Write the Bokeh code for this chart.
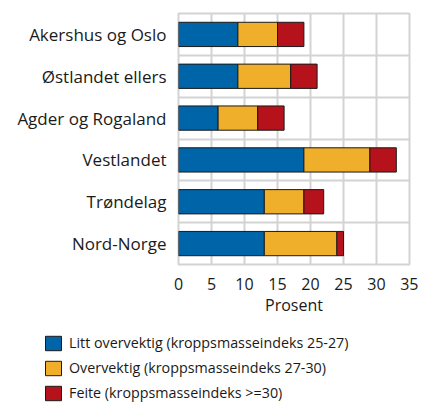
from bokeh.plotting import figure
from bokeh.layouts import column
from bokeh.models import Range1d, FixedTicker, Legend, LegendItem
from bokeh.embed import file_html
from bokeh.resources import INLINE

regions = ["Akershus og Oslo", "Østlandet ellers", "Agder og Rogaland",
           "Vestlandet", "Trøndelag", "Nord-Norge"]
litt = [9, 9, 6, 19, 13, 13]
over = [6, 8, 6, 10, 6, 11]
feite = [4, 4, 4, 4, 3, 1]
series_names = ["Litt overvektig (kroppsmasseindeks 25-27)",
                "Overvektig (kroppsmasseindeks 27-30)",
                "Feite (kroppsmasseindeks >=30)"]
colors = ["#0064a8", "#efaf2b", "#b5121b"]
x_ticks = [0, 5, 10, 15, 20, 25, 30, 35]
x_label = "Prosent"

FONT = "Open Sans"
TXT = "#1a1a1a"
GRID = "#d3d3d3"
EDGE = "#1a1a1a"

p = figure(width=418, height=318, x_range=Range1d(0, 35), y_range=Range1d(5.5, -0.5),
           output_backend="svg", toolbar_location=None,
           min_border_left=178, min_border_right=9, min_border_top=13, min_border_bottom=49)

ys = list(range(len(regions)))
series = [litt, over, feite]
left = [0] * len(regions)
for vals, col in zip(series, colors):
    right = [l + v for l, v in zip(left, vals)]
    p.hbar(y=ys, left=left, right=right, height=0.58, fill_color=col,
           line_color=EDGE, line_width=1)
    left = right

p.xgrid.ticker = FixedTicker(ticks=x_ticks)
p.ygrid.ticker = FixedTicker(ticks=[0.5, 1.5, 2.5, 3.5, 4.5])
for g in (p.xgrid, p.ygrid):
    g.grid_line_color = GRID
    g.grid_line_width = 2
p.outline_line_color = GRID
p.outline_line_width = 2

p.xaxis.ticker = FixedTicker(ticks=x_ticks)
p.yaxis.ticker = FixedTicker(ticks=ys)
p.yaxis.major_label_overrides = {i: n for i, n in enumerate(regions)}
p.xaxis.axis_label = x_label
for ax in (p.xaxis, p.yaxis):
    ax.axis_line_color = None
    ax.major_tick_line_color = None
    ax.minor_tick_line_color = None
    ax.major_label_text_font = FONT
    ax.major_label_text_color = TXT
    ax.major_label_text_font_size = "16px"
    ax.axis_label_text_font = FONT
    ax.axis_label_text_font_style = "normal"
    ax.axis_label_text_font_size = "16px"
    ax.axis_label_text_color = TXT
p.yaxis.major_label_text_font_size = "17px"
p.yaxis.major_label_standoff = 6
p.xaxis.major_label_standoff = 7
p.xaxis.axis_label_standoff = 1

# legend figure (key only; its swatches sit outside its visible range)
q = figure(width=418, height=84, x_range=Range1d(0, 1), y_range=Range1d(100, 101),
           output_backend="svg", toolbar_location=None,
           min_border=0, min_border_left=0, min_border_right=0,
           min_border_top=0, min_border_bottom=0)
q.axis.visible = False
q.grid.visible = False
q.outline_line_color = None
items = []
left = [0] * len(regions)
for name, vals, col in zip(series_names, series, colors):
    right = [l + v for l, v in zip(left, vals)]
    r = q.hbar(y=ys, left=left, right=right, height=0.58, fill_color=col,
               line_color=EDGE, line_width=1)
    items.append(LegendItem(label=name, renderers=[r]))
    left = right
legend = Legend(items=items, location=(43, 0), orientation="vertical",
                glyph_width=20, glyph_height=18, label_standoff=6, spacing=6,
                padding=0, margin=0, border_line_color=None, background_fill_alpha=0,
                label_text_font=FONT, label_text_font_size="14.3px", label_text_color=TXT)
q.add_layout(legend)

layout = column(p, column(q), spacing=0)
open("out.html", "w").write(file_html(layout, INLINE))
